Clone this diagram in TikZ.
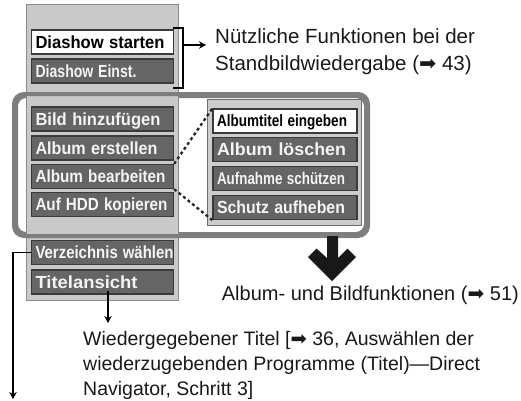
\documentclass[tikz,border=0pt]{standalone}
\usepackage{fontspec}
\setmainfont{Liberation Sans}
\newfontfamily\symf{DejaVu Sans}
\usetikzlibrary{arrows.meta}
\definecolor{panelgrey}{HTML}{C9C9C9}
\definecolor{panelborder}{HTML}{8A8A8A}
\definecolor{btngrey}{HTML}{656565}
\definecolor{btnborder}{HTML}{3A3A3A}
\definecolor{rectborder}{HTML}{7E7E7E}
\definecolor{innerborder}{HTML}{6E6E6E}
\definecolor{btntext}{HTML}{F4F4F4}
\newcommand{\lbl}[2]{\rule{0pt}{0.716em}\smash{\resizebox{#1pt}{\height}{#2}}}
\newcommand{\rarr}{{\symf\scalebox{1.0}{➡}}}
\begin{document}
\begin{tikzpicture}[x=1pt,y=-1pt,
  panel/.style={draw=panelborder, line width=1.5pt, fill=panelgrey, inner sep=0pt},
  btn/.style={draw=btnborder, line width=1.3pt, fill=btngrey, text=btntext,
    font=\fontsize{17.5}{19}\selectfont\bfseries, minimum height=24pt,
    text width=134pt, align=left, inner xsep=4pt, inner ysep=0pt},
  wbtn/.style={btn, fill=white, text=black},
  ibtn/.style={btn, text width=136pt},
  body/.style={font=\fontsize{20}{24}\selectfont, inner sep=0pt, anchor=base west, text=black!90},
  conn/.style={line width=1.8pt, draw=black, -{Stealth[length=7pt,width=7.5pt]}},
  dots/.style={line width=2.3pt, draw=black!85, dash pattern=on 3pt off 2.8pt}
]
\useasboundingbox (0,0) rectangle (521,400);
% big rounded frame
\node[draw=rectborder, line width=4pt, rounded corners=10pt, fill=white,
  minimum width=350pt, minimum height=138pt, inner sep=0pt] (big) at (191,165) {};
% left panel
\node[panel, minimum width=152pt, minimum height=296pt] (lp) at (102.5,152.5) {};
\draw[draw=rectborder, line width=4pt, rounded corners=10pt] (big.north west) rectangle (big.south east);
% inner panel
\node[panel, draw=innerborder, fill=panelgrey!95!white, minimum width=154pt, minimum height=126pt] (ip) at (284.5,162.5) {};

% left buttons
\node[wbtn] (ds) at (102.5,42) {\lbl{129}{Diashow starten}};
\node[btn] (de) at (102.5,71) {\lbl{101}{Diashow Einst.}};
\node[btn] (bh) at (102.5,119) {\lbl{125}{Bild hinzufügen}};
\node[btn] (ae) at (102.5,148) {\lbl{122}{Album erstellen}};
\node[btn] (ab) at (102.5,176.5) {\lbl{130}{Album bearbeiten}};
\node[btn] (hdd) at (102.5,204.5) {\lbl{132}{Auf HDD kopieren}};
\node[btn] (vz) at (102.5,252.5) {\lbl{138}{Verzeichnis wählen}};
\node[btn] (ta) at (102.5,282) {\lbl{102}{Titelansicht}};

% inner buttons
\node[ibtn, fill=white, text=black, font=\fontsize{16.5}{18}\selectfont\bfseries] (i1) at (285,121) {\lbl{130}{Albumtitel eingeben}};
\node[ibtn, font=\fontsize{17.5}{19}\selectfont\bfseries] (i2) at (285,149.5) {\lbl{129}{Album löschen}};
\node[ibtn, font=\fontsize{17}{19}\selectfont\bfseries] (i3) at (285,178.5) {\lbl{128}{Aufnahme schützen}};
\node[ibtn] (i4) at (285,207.5) {\lbl{128}{Schutz aufheben}};

% dotted links
\draw[dots] (ab.north east) -- (i1.north west);
\draw[dots] (ab.south east) -- (i4.south west);

% bracket and arrow
\coordinate (brt) at (173,28);
\coordinate (brb) at (173,88);
\coordinate (brm) at (183,45);
\coordinate (brend) at (206,45);
\draw[line width=1.8pt] (brt) -- ++(10,0) -- ++(0,60) -- (brb);
\draw[conn] (brm) -- (brend);

\node[body, font=\fontsize{20.5}{24}\selectfont] (t1) at (215,43) {Nützliche Funktionen bei der};
\node[body, font=\fontsize{20.5}{24}\selectfont] (t2) at (215,70) {Standbildwiedergabe (\rarr\ 43)};

% big down arrow
\fill[black!90] (327,236) -- (338,236) -- (338,258) -- (347.5,248.5) -- (356,257) -- (332,281)
  -- (308,257) -- (316.5,248.5) -- (327,258) -- cycle;
\node[body, anchor=base east] (t3) at (519,300) {Album- und Bildfunktionen (\rarr\ 51)};

% Titelansicht arrow
\coordinate (tas) at (108,291);
\coordinate (tae) at (108,323);
\draw[conn] (tas) -- (tae);
\node[body, font=\fontsize{19.5}{24}\selectfont] (w1) at (83,345) {Wiedergegebener Titel [\rarr\ 36, Auswählen der};
\node[body, font=\fontsize{19.5}{24}\selectfont] (w2) at (83,370) {wiederzugebenden Programme (Titel)—Direct};
\node[body, font=\fontsize{19.5}{24}\selectfont] (w3) at (83,395) {Navigator, Schritt 3]};

% Verzeichnis arrow
\coordinate (vend) at (13,399);
\draw[conn] (vz.west) -| (vend);
\end{tikzpicture}
\end{document}
